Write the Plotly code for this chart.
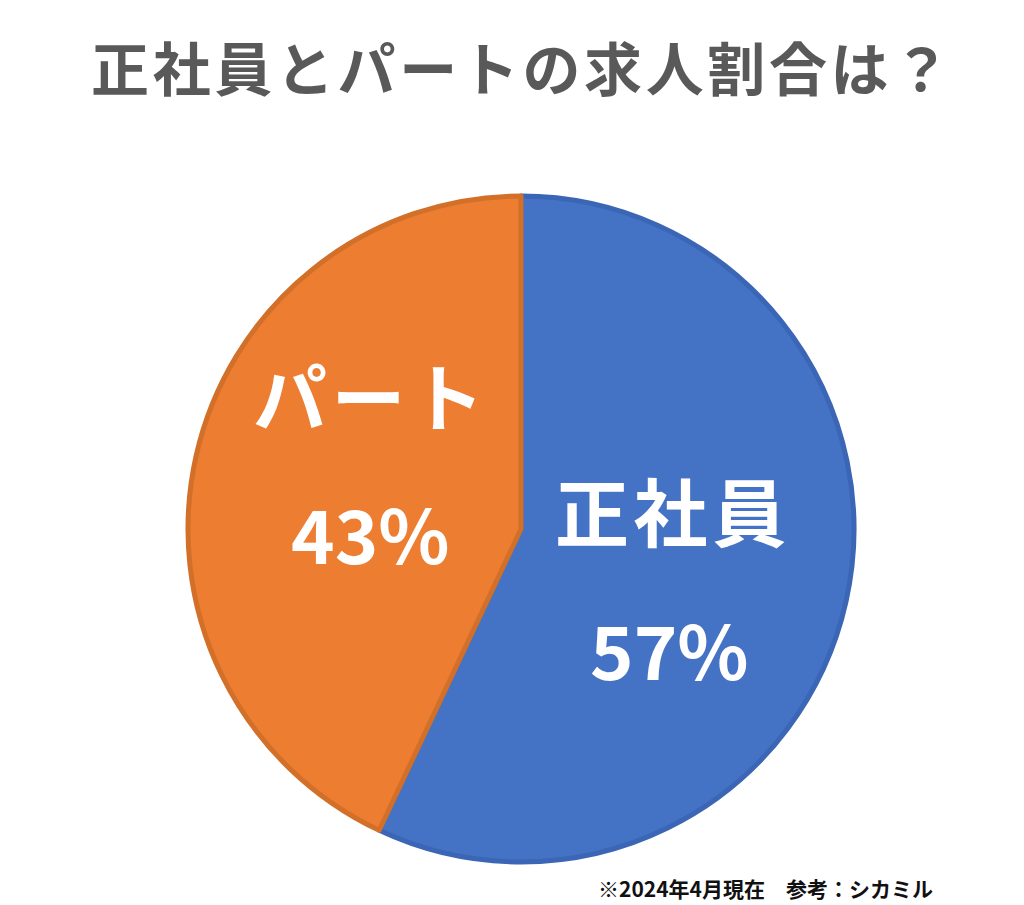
import plotly.graph_objects as go

labels = ["正社員", "パート"]
values = [57, 43]
colors = ["#4472C4", "#ED7D31"]
border_colors = ["#3B66B6", "#D2702A"]
title_text = "正社員とパートの求人割合は？"
note_text = "※2024年4月現在　参考：シカミル"

W, H = 1024, 905
cx, cy, r = 513, 521, 333
HS = "\u200a"

def spaced(s):
    return HS.join(s)

fig = go.Figure(go.Pie(
    labels=labels, values=values, sort=False, direction="clockwise", rotation=0,
    marker=dict(colors=colors, line=dict(color=border_colors, width=5)),
    textinfo="none", hoverinfo="label+percent", showlegend=False,
    domain=dict(x=[(cx - r) / W, (cx + r) / W], y=[(H - cy - r) / H, (H - cy + r) / H]),
))

font_cjk = "Noto Sans CJK JP, Noto Sans, sans-serif"
anns = [
    dict(x=662, y=500, text=f"<b>{spaced(labels[0])}</b>", size=74),
    dict(x=661, y=639, text=f"<b>{values[0]}%</b>", size=74),
    dict(x=360, y=386, text=f"<b>{spaced(labels[1])}</b>", size=74),
    dict(x=362, y=523, text=f"<b>{values[1]}%</b>", size=74),
]
for a in anns:
    fig.add_annotation(x=a["x"] / W, y=1 - a["y"] / H, xref="paper", yref="paper", text=a["text"],
                       showarrow=False, xanchor="center", yanchor="middle",
                       font=dict(family=font_cjk, size=a["size"], color="white"))

fig.add_annotation(x=512 / W, y=1 - 58 / H, xref="paper", yref="paper",
                   text=f"<b>{spaced(title_text)}</b>", showarrow=False, xanchor="center", yanchor="middle",
                   font=dict(family=font_cjk, size=58, color="#595959"))
fig.add_annotation(x=927 / W, y=1 - 880 / H, xref="paper", yref="paper",
                   text=f"<b>{note_text}</b>", showarrow=False, xanchor="right", yanchor="middle",
                   font=dict(family=font_cjk, size=21, color="#111111"))

fig.update_layout(width=W, height=H, margin=dict(l=0, r=0, t=0, b=0),
                  paper_bgcolor="white", plot_bgcolor="white")
fig.write_html("out.html")
